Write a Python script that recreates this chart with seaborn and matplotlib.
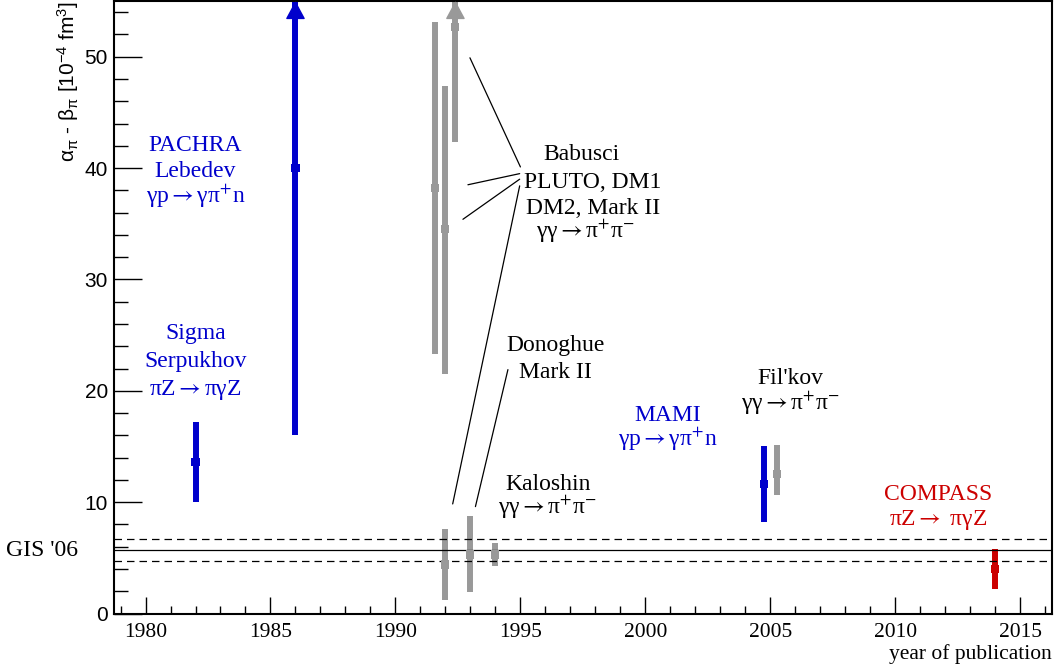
import matplotlib
matplotlib.use("Agg")
import matplotlib.pyplot as plt
from matplotlib.ticker import MultipleLocator
import seaborn as sns
import pandas as pd

# measurements: year, central value, lower/upper edge of the error band
years = [1982.0, 1986.0, 1991.6, 1992.0, 1992.4, 1992.0, 1993.0, 1994.0, 2004.75, 2005.25, 2014.0]
values = [13.6, 40.0, 38.2, 34.5, 52.7, 4.4, 5.3, 5.3, 11.6, 12.5, 4.0]
lows = [10.0, 16.0, 23.3, 21.5, 42.3, 1.2, 1.9, 4.3, 8.2, 10.6, 2.2]
highs = [17.2, 64.0, 53.1, 47.4, 62.0, 7.6, 8.8, 6.3, 15.0, 15.1, 5.8]
kinds = ["prim", "prim", "gg", "gg", "gg", "gg", "gg", "gg", "prim", "gg", "compass"]

gis_center = 5.7
gis_err = 1.0

# leader lines from the labels to the points
babusci_lines = [
    [(1992.98, 49.9), (1995.0, 40.1)],
    [(1992.9, 38.5), (1994.97, 39.5)],
    [(1992.7, 35.4), (1994.97, 39.0)],
    [(1994.97, 38.4), (1992.29, 9.84)],
]
donoghue_line = [(1994.5, 21.9), (1993.2, 9.6)]

ARR = r"$\rightarrow$"
GGPP = "γγ" + ARR + "π$^{+}$π$^{-}$"
GPN = "γp" + ARR + "γπ$^{+}$n"

# label text: x, y, text, kind
labels = [
    (1982.0, 42.0, "PACHRA", "prim"),
    (1982.0, 39.7, "Lebedev", "prim"),
    (1982.0, 37.5, GPN, "prim"),
    (1982.0, 25.1, "Sigma", "prim"),
    (1982.0, 22.6, "Serpukhov", "prim"),
    (1982.0, 20.1, "πZ" + ARR + "πγZ", "prim"),
    (1997.45, 41.2, "Babusci", "gg"),
    (1997.9, 38.7, "PLUTO, DM1", "gg"),
    (1997.9, 36.4, "DM2, Mark II", "gg"),
    (1997.6, 34.3, GGPP, "gg"),
    (1996.4, 24.1, "Donoghue", "gg"),
    (1996.4, 21.6, "Mark II", "gg"),
    (1996.1, 11.6, "Kaloshin", "gg"),
    (1996.1, 9.5, GGPP, "gg"),
    (2000.9, 17.8, "MAMI", "prim"),
    (2000.9, 15.6, GPN, "prim"),
    (2005.8, 21.1, "Fil'kov", "gg"),
    (2005.8, 18.9, GGPP, "gg"),
    (2011.7, 10.7, "COMPASS", "compass"),
    (2011.7, 8.4, "πZ" + ARR + " πγZ", "compass"),
]

YMAX = 55
palette = {"prim": "#0000cc", "gg": "#999999", "compass": "#cc0000"}
text_colors = {"prim": "#0000cc", "gg": "black", "compass": "#cc0000"}
serif = ["Liberation Serif", "DejaVu Serif"]

df = pd.DataFrame({"year": years, "value": values, "lo": lows, "hi": highs, "kind": kinds})

sns.set_style("white")
plt.rcParams["font.family"] = ["Liberation Sans", "DejaVu Sans"]
plt.rcParams["mathtext.fontset"] = "custom"
plt.rcParams["mathtext.rm"] = "Liberation Sans"
plt.rcParams["mathtext.it"] = "Liberation Sans:italic"
plt.rcParams["text.color"] = "black"
plt.rcParams["xtick.color"] = "black"
plt.rcParams["ytick.color"] = "black"
plt.rcParams["axes.labelcolor"] = "black"

fig = plt.figure(figsize=(10.57, 6.70), dpi=100)
ax = fig.add_axes([0.1074, 0.0843, 0.8879, 0.9142])

# error bars
for _, row in df.iterrows():
    top = min(row.hi, YMAX)
    ax.vlines(row.year, row.lo, top, colors=palette[row.kind], lw=4.3, zorder=2)
    if row.hi > YMAX:
        ax.annotate("", xy=(row.year, YMAX), xytext=(row.year, YMAX - 1.6),
                    arrowprops=dict(arrowstyle="-|>,head_length=1.15,head_width=0.62",
                                    mutation_scale=10, color=palette[row.kind], lw=1,
                                    shrinkA=0, shrinkB=0),
                    annotation_clip=False, zorder=3)

sns.scatterplot(data=df, x="year", y="value", hue="kind", palette=palette, marker="s",
                s=34, linewidth=0, legend=False, ax=ax, zorder=3)

# GIS '06 band
ax.axhline(gis_center, color="black", lw=0.9)
ax.axhline(gis_center + gis_err, color="black", lw=0.9, ls=(0, (6, 4)))
ax.axhline(gis_center - gis_err, color="black", lw=0.9, ls=(0, (6, 4)))
ax.text(-0.115, gis_center, "GIS '06", transform=ax.get_yaxis_transform(),
        ha="left", va="center", fontsize=17, family=serif)

for seg in babusci_lines + [donoghue_line]:
    ax.plot([seg[0][0], seg[1][0]], [seg[0][1], seg[1][1]], color="black", lw=0.9)

for x, y, t, k in labels:
    ax.text(x, y, t, ha="center", va="center", fontsize=17, color=text_colors[k],
            family=serif, math_fontfamily="stix")

ax.set_xlim(1978.72, 2016.27)
ax.set_ylim(0, YMAX)

ax.xaxis.set_major_locator(MultipleLocator(5))
ax.xaxis.set_minor_locator(MultipleLocator(1))
ax.yaxis.set_major_locator(MultipleLocator(10))
ax.yaxis.set_minor_locator(MultipleLocator(2))
ax.tick_params(bottom=True, left=True, top=False, right=False, which="both")
ax.tick_params(axis="x", which="major", direction="in", length=12.5, width=1, pad=7, labelsize=15.5)
ax.tick_params(axis="x", which="minor", direction="in", length=6, width=1)
ax.tick_params(axis="y", which="major", direction="in", length=20, width=1, pad=4, labelsize=15)
ax.tick_params(axis="y", which="minor", direction="in", length=10, width=1)
for lab in ax.get_xticklabels():
    lab.set_family(serif)

for sp in ax.spines.values():
    sp.set_linewidth(1.5)
    sp.set_color("black")

ax.set_xlabel("year of publication", fontsize=15.5, family=serif, loc="right")
ax.xaxis.set_label_coords(1.0, -0.05)
ax.xaxis.label.set_va("top")
ax.set_ylabel(r"$\mathrm{\alpha}_{\mathrm{\pi}}$ - $\mathrm{\beta}_{\mathrm{\pi}}$ [10$^{-4}$ fm$^{3}$]",
              fontsize=15, loc="top")
ax.yaxis.set_label_coords(-0.035, 1.0)

fig.savefig("out.png", dpi=100)
